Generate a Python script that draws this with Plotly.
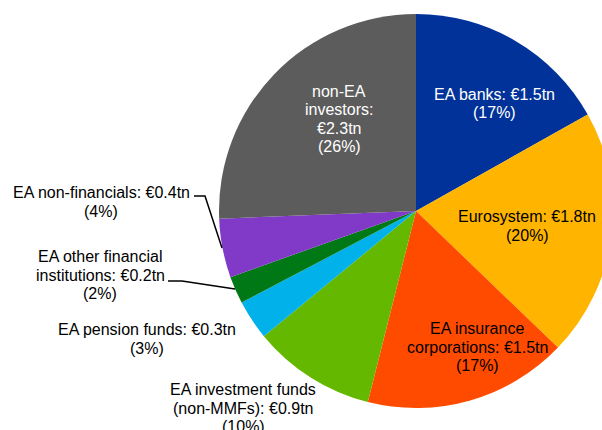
import plotly.graph_objects as go

# ---- data ----
sectors = ["EA banks", "Eurosystem", "EA insurance corporations", "EA investment funds (non-MMFs)",
           "EA pension funds", "EA other financial institutions", "EA non-financials", "non-EA investors"]
holdings_tn = [1.50, 1.81, 1.49, 0.90, 0.29, 0.20, 0.43, 2.28]
amount_labels = ["€1.5tn", "€1.8tn", "€1.5tn", "€0.9tn", "€0.3tn", "€0.2tn", "€0.4tn", "€2.3tn"]
share_labels = ["(17%)", "(20%)", "(17%)", "(10%)", "(3%)", "(2%)", "(4%)", "(26%)"]
label_lines = [
    ["EA banks: {a}", "{s}"],
    ["Eurosystem: {a}", "{s}"],
    ["EA insurance", "corporations: {a}", "{s}"],
    ["EA investment funds", "(non-MMFs): {a}", "{s}"],
    ["EA pension funds: {a}", "{s}"],
    ["EA other financial", "institutions: {a}", "{s}"],
    ["EA non-financials: {a}", "{s}"],
    ["non-EA", "investors:", "{a}", "{s}"],
]
colors = ["#003299", "#FFB400", "#FF4B00", "#65B800", "#00B1EA", "#007816", "#8139C8", "#5C5C5C"]
text_colors = ["white", "black", "black", "black", "black", "black", "black", "white"]

# ---- layout geometry (pixels) ----
W, H = 640, 430
cx, cy, R = 416, 211, 197
FONT_SIZE = 16
LINE_GAP = 18.6
label_pos = [(494, 103.5), (527, 226), (477, 347), (243, 408), (147, 339), (100, 275), (101, 202), (339, 119)]
leaders = {5: [(168, 281), (182, 281), (235, 289)],
           6: [(194, 196), (205, 196), (222, 248)]}

def px(x):
    return x / W

def py(y):
    return 1 - y / H

fig = go.Figure(go.Pie(
    labels=sectors,
    values=holdings_tn,
    sort=False,
    direction="clockwise",
    rotation=0,
    marker=dict(colors=colors, line=dict(width=0)),
    textinfo="none",
    hoverinfo="skip",
    showlegend=False,
    domain=dict(x=[px(cx - R), px(cx + R)], y=[py(cy + R), py(cy - R)]),
))

annotations = []
for i, lines in enumerate(label_lines):
    x, yc = label_pos[i]
    n = len(lines)
    for k, l in enumerate(lines):
        y = yc + (k - (n - 1) / 2) * LINE_GAP
        annotations.append(dict(
            x=px(x), y=py(y), xref="paper", yref="paper",
            text=l.format(a=amount_labels[i], s=share_labels[i]), showarrow=False,
            xanchor="center", yanchor="middle", align="center",
            font=dict(family="Liberation Sans, Arial", size=FONT_SIZE, color=text_colors[i]),
        ))

shapes = []
for i, pts in leaders.items():
    path = "M " + " L ".join(f"{px(x)},{py(y)}" for x, y in pts)
    shapes.append(dict(type="path", xref="paper", yref="paper", path=path,
                       line=dict(color="black", width=1.5)))

fig.update_layout(
    width=W, height=H,
    margin=dict(l=0, r=0, t=0, b=0),
    paper_bgcolor="white", plot_bgcolor="white",
    annotations=annotations, shapes=shapes,
)

fig.write_html("out.html", config={"displayModeBar": False},
               post_script="document.body.style.margin='0';document.body.style.overflow='hidden';document.documentElement.style.overflow='hidden';")
